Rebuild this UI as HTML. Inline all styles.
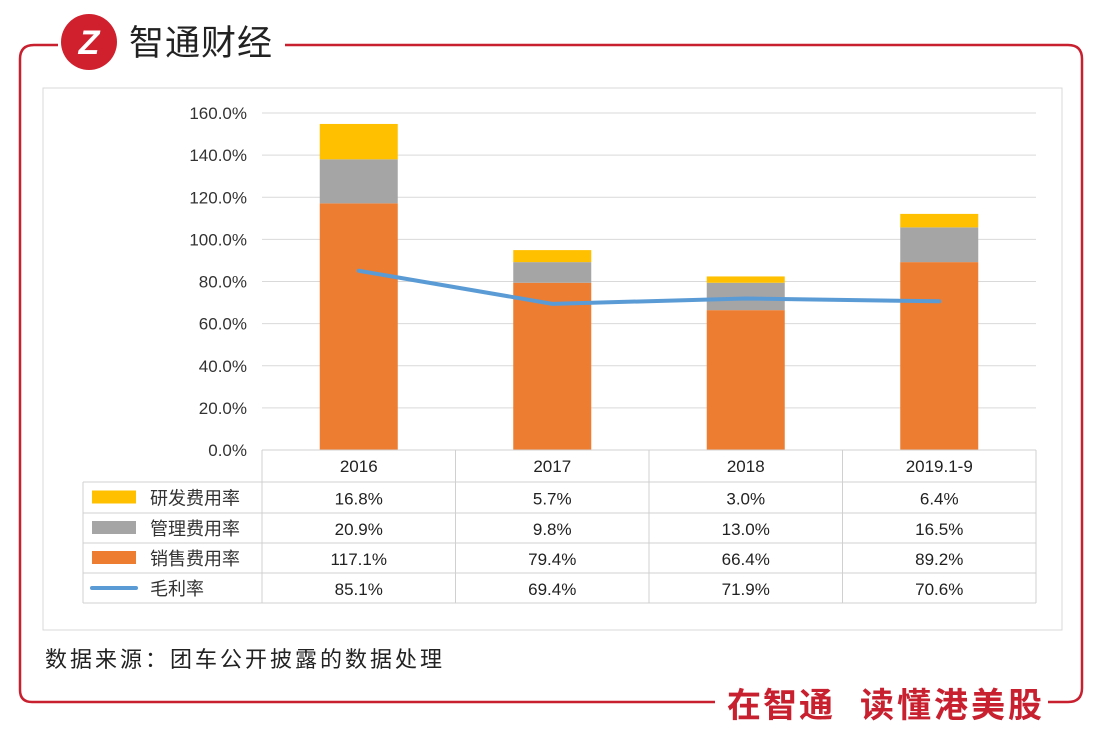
<!DOCTYPE html>
<html><head><meta charset="utf-8">
<style>
body{margin:0;background:#fff;width:1102px;height:743px;overflow:hidden;font-family:"Liberation Sans","Noto Sans CJK SC",sans-serif}
svg text{font-family:"Liberation Sans","Noto Sans CJK SC",sans-serif}
</style></head><body>
<svg width="1102" height="743">
<g fill="none" stroke="#c8202f" stroke-width="2.5">
<path d="M58 45 H34 Q20 45 20 59 V690 Q20 702 32 702 H715"/>
<path d="M285 45 H1068 Q1082 45 1082 59 V688 Q1082 702 1068 702 H1048"/>
</g>
<g>
<circle cx="89" cy="42" r="28" fill="#d0202e"/>
<text x="89" y="54" text-anchor="middle" font-size="34" font-weight="bold" fill="#fff" font-style="italic">Z</text>
<text x="129" y="55" font-size="35" letter-spacing="1" fill="#222">智通财经</text>
</g>
<text x="727" y="717" font-size="34" letter-spacing="2" font-weight="bold" fill="#c8202f">在智通</text>
<text x="860" y="717" font-size="34" letter-spacing="3" font-weight="bold" fill="#c8202f">读懂港美股</text>
<rect x="43" y="88" width="1019" height="542" fill="#fff" stroke="#d9d9d9"/>
<g id="grid"></g><g id="bars"></g><g id="line"></g><g id="table"></g>
<text x="45" y="667" font-size="22" letter-spacing="3" fill="#222">数据来源：团车公开披露的数据处理</text>
</svg>
<script>
const categories=["2016","2017","2018","2019.1-9"];
const sales=[117.1,79.4,66.4,89.2];
const admin=[20.9,9.8,13.0,16.5];
const rnd=[16.8,5.7,3.0,6.4];
const gross=[85.1,69.4,71.9,70.6];
const yTicks=[0,20,40,60,80,100,120,140,160];
const NS="http://www.w3.org/2000/svg";
const x0=262,x1=1036,yb=450,yt=113;
const bw=(x1-x0)/categories.length;
const y=v=>yb-(v/160)*(yb-yt);
const cx=i=>x0+bw*(i+0.5);
function mk(p,t,a){const e=document.createElementNS(NS,t);for(const k in a)e.setAttribute(k,a[k]);p.appendChild(e);return e;}
const G=document.getElementById('grid'),B=document.getElementById('bars'),L=document.getElementById('line'),T=document.getElementById('table');
yTicks.forEach(v=>{
 const l=mk(G,'line',{x1:x0,x2:x1,y1:y(v),y2:y(v),stroke:'#d9d9d9'});
 
 
 const t=mk(G,'text',{x:247,y:y(v)+6,'text-anchor':'end','font-size':17,fill:'#333'});
 t.textContent=v.toFixed(1)+'%';
 
 
});
const series=[[sales,'#ed7d31','sales'],[admin,'#a5a5a5','admin'],[rnd,'#ffc000','rnd']];
categories.forEach((c,i)=>{
 let base=0;
 series.forEach(([arr,col,nm])=>{
  const r=mk(B,'rect',{x:cx(i)-39,width:78,y:y(base+arr[i]),height:y(base)-y(base+arr[i]),fill:col});
  
  
  base+=arr[i];
 });
});
const pl=mk(L,'polyline',{points:gross.map((v,i)=>cx(i)+','+y(v)).join(' '),fill:'none',stroke:'#5b9bd5','stroke-width':4,'stroke-linecap':'round'});


const rowsY=[450,482,513,543,573,603];
const st='#d0d0d0';
mk(T,'line',{x1:x0,x2:x1,y1:450,y2:450,stroke:st});
for(let r=1;r<rowsY.length;r++) mk(T,'line',{x1:83,x2:x1,y1:rowsY[r],y2:rowsY[r],stroke:st});
mk(T,'line',{x1:83,x2:83,y1:482,y2:603,stroke:st});
for(let i=0;i<=categories.length;i++) mk(T,'line',{x1:x0+bw*i,x2:x0+bw*i,y1:450,y2:603,stroke:st});
categories.forEach((c,i)=>{
 const t=mk(T,'text',{x:cx(i),y:472,'text-anchor':'middle','font-size':17,fill:'#222'});
 t.textContent=c;
 
 
});
const rows=[['研发费用率',rnd,'#ffc000','bar'],['管理费用率',admin,'#a5a5a5','bar'],['销售费用率',sales,'#ed7d31','bar'],['毛利率',gross,'#5b9bd5','line']];
rows.forEach(([nm,arr,col,kind],r)=>{
 const ym=(rowsY[r+1]+rowsY[r+2])/2;
 if(kind==='bar') mk(T,'rect',{x:92,y:ym-7,width:44,height:13,fill:col});
 else mk(T,'line',{x1:92,x2:136,y1:ym,y2:ym,stroke:col,'stroke-width':4,'stroke-linecap':'round'});
 const lt=mk(T,'text',{x:150,y:ym+7,'font-size':18,fill:'#333'});
 lt.textContent=nm;
 
 
 arr.forEach((v,i)=>{
  const t=mk(T,'text',{x:cx(i),y:ym+7,'text-anchor':'middle','font-size':17,fill:'#222'});
  t.textContent=v.toFixed(1)+'%';
  
  
 });
});
</script>
</body></html>
